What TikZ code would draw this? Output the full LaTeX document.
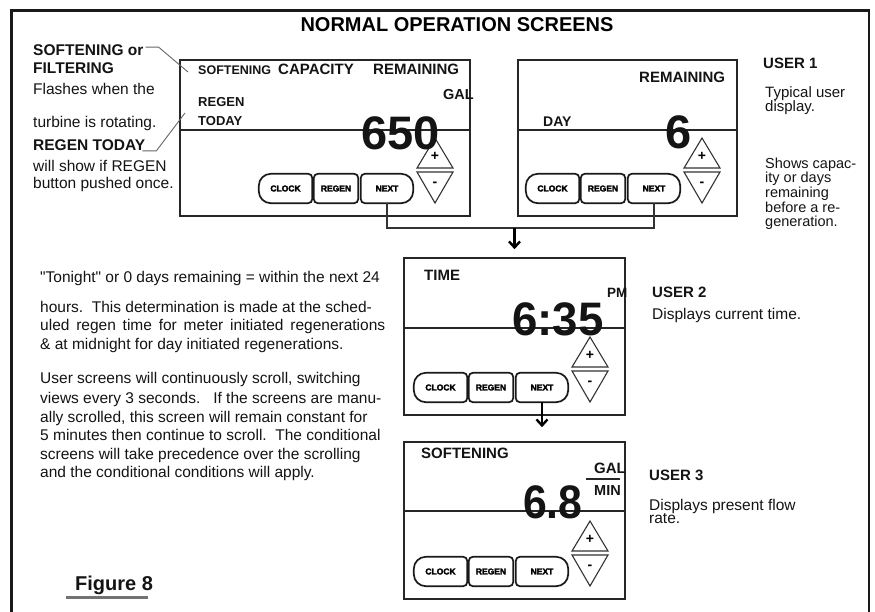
\documentclass[tikz,border=0pt]{standalone}
\usepackage{fontspec}
\setmainfont{Liberation Sans}
\usetikzlibrary{arrows.meta}
\newcommand\myfs[1]{\fontsize{#1}{#1}\selectfont}
\newcommand\sq{\XeTeXglyph\XeTeXcharglyph"22\relax}
\tikzset{
  frameline/.style={draw=black!90, line width=2.6pt},
  scr/.style={draw=black!85, line width=1.6pt, inner sep=0pt, shape=rectangle},
  divl/.style={draw=black!85, line width=1.6pt},
  btn/.style={inner sep=0pt, minimum height=29pt, font=\myfs{8.5}\bfseries\addfontfeature{FakeBold=3}},
  btnline/.style={draw=black!90, line width=1.7pt},
  tri/.style={draw=black!80, line width=1.1pt},
  pmsign/.style={inner sep=0pt, font=\myfs{14}\bfseries},
  conn/.style={draw=black!80, line width=1.2pt},
  arr/.style={draw=black, line width=2.4pt, -{Straight Barb[length=6pt,width=11pt]}},
  leadline/.style={draw=black!60, line width=0.9pt},
  lbl/.style={anchor=base west, inner sep=0pt, text=black!92},
  bignum/.style={lbl, font=\myfs{47}\bfseries},
}
\newcommand\scrparts[3]{%
  \node[btn, minimum width=53pt] (clock#1) at ({#2-184.5},{#3-27.5}) {CLOCK};
  \node[btn, minimum width=44pt] (regen#1) at ({#2-134},{#3-27.5}) {REGEN};
  \node[btn, minimum width=52pt] (next#1) at ({#2-83},{#3-27.5}) {NEXT};
  \draw[btnline] (clock#1.north) [rounded corners=12pt] -- (clock#1.north west) -- (clock#1.south west) [rounded corners=4pt] -- (clock#1.south east) -- (clock#1.north east) -- cycle;
  \draw[btnline, rounded corners=4pt] (regen#1.north west) rectangle (regen#1.south east);
  \draw[btnline] (next#1.north) [rounded corners=12pt] -- (next#1.north east) -- (next#1.south east) [rounded corners=4pt] -- (next#1.south west) -- (next#1.north west) -- cycle;
  \draw[tri] ({#2-35},{#3-78}) -- ({#2-17},{#3-48}) -- ({#2-53},{#3-48}) -- cycle;
  \draw[tri] ({#2-53},{#3-44}) -- ({#2-17},{#3-44}) -- ({#2-35},{#3-13}) -- cycle;
  \node[pmsign] (plus#1) at ({#2-35},{#3-60}) {+};
  \node[pmsign] (minus#1) at ({#2-35},{#3-32}) {-};
}
\begin{document}
\begin{tikzpicture}[x=1pt,y=-1pt]
\useasboundingbox (0,0) rectangle (875,611);
\fill[white] (0,0) rectangle (875,611);
\draw[frameline] (11.5,640) -- (11.5,10.5) -- (869,10.5) -- (869,640);

\node[anchor=base, inner sep=0pt, font=\myfs{20}\bfseries] (title) at (457,31) {NORMAL OPERATION SCREENS};

% screens
\node[scr, minimum width=290pt, minimum height=156pt] (s1) at (325,138) {};
\node[scr, minimum width=219pt, minimum height=156pt] (s2) at (627.5,138) {};
\node[scr, minimum width=221pt, minimum height=157pt] (s3) at (514.5,336.5) {};
\node[scr, minimum width=221pt, minimum height=157pt] (s4) at (514.5,520.5) {};
\draw[divl] (s1.west |- 0,130) -- (s1.east |- 0,130);
\draw[divl] (s2.west |- 0,130) -- (s2.east |- 0,130);
\draw[divl] (s3.west |- 0,328) -- (s3.east |- 0,328);
\draw[divl] (s4.west |- 0,511) -- (s4.east |- 0,511);

\scrparts{1}{470}{216}
\scrparts{2}{737}{216}
\scrparts{3}{625}{415}
\scrparts{4}{625}{599}

% screen 1 texts
\node[lbl, font=\myfs{12.5}\bfseries] (t1a) at (198,74) {SOFTENING};
\node[lbl, font=\myfs{15}\bfseries] (t1b) at (278,74) {CAPACITY};
\node[lbl, font=\myfs{15}\bfseries] (t1c) at (373,74) {REMAINING};
\node[lbl, font=\myfs{14.5}\bfseries] (t1d) at (443,99.5) {GAL};
\node[lbl, font=\myfs{13}\bfseries] (t1e) at (198,106.5) {REGEN};
\node[lbl, font=\myfs{13}\bfseries] (t1f) at (198,125.5) {TODAY};
\node[bignum] (v650) at (361,149) {650};

% screen 2 texts
\node[lbl, font=\myfs{15}\bfseries] (t2a) at (639,82.5) {REMAINING};
\node[lbl, font=\myfs{14}\bfseries] (t2b) at (543,126) {DAY};
\node[bignum] (v6) at (665,148) {6};

% screen 3 texts
\node[lbl, font=\myfs{15}\bfseries] (t3a) at (424,280) {TIME};
\node[lbl, font=\myfs{13.5}\bfseries] (t3b) at (607,297) {PM};
\node[bignum] (v635) at (512,335) {\scalebox{0.97}[1]{6:35}};

% screen 4 texts
\node[lbl, font=\myfs{15}\bfseries] (t4a) at (421,458.5) {SOFTENING};
\node[lbl, font=\myfs{15}\bfseries] (t4b) at (594,473) {GAL};
\draw[draw=black!85, line width=1.8pt] (586,479) -- (620,479);
\node[lbl, font=\myfs{14.5}\bfseries] (t4c) at (594,495) {MIN};
\node[bignum] (v68) at (523,518) {\scalebox{0.91}[1]{6.8}};

% right labels
\node[lbl, font=\myfs{15}\bfseries] (u1) at (763,68) {USER 1};
\node[lbl, font=\myfs{15}] (u1a) at (765,97.5) {Typical user};
\node[lbl, font=\myfs{15}] (u1b) at (765,111.5) {display.};
\node[lbl, font=\myfs{14.5}] (u1c) at (765,168) {Shows capac-};
\node[lbl, font=\myfs{14.5}] (u1d) at (765,182.7) {ity or days};
\node[lbl, font=\myfs{14.5}] (u1e) at (765,197.4) {remaining};
\node[lbl, font=\myfs{14.5}] (u1f) at (765,212.1) {before a re-};
\node[lbl, font=\myfs{14.5}] (u1g) at (765,226.8) {generation.};
\node[lbl, font=\myfs{15}\bfseries] (u2) at (652,297) {USER 2};
\node[lbl, font=\myfs{15.5}] (u2a) at (652,319.5) {Displays current time.};
\node[lbl, font=\myfs{15}\bfseries] (u3) at (649,480) {USER 3};
\node[lbl, font=\myfs{15.5}] (u3a) at (649,510.5) {Displays present flow};
\node[lbl, font=\myfs{15.5}] (u3b) at (649,523.5) {rate.};

% left labels
\node[lbl, font=\myfs{15.5}\bfseries] (l1) at (33,55.5) {SOFTENING or};
\node[lbl, font=\myfs{15.5}\bfseries] (l2) at (33,73.5) {FILTERING};
\node[lbl, font=\myfs{15.5}] (l3) at (33,94.5) {Flashes when the};
\node[lbl, font=\myfs{15.5}] (l4) at (33,127.5) {turbine is rotating.};
\node[lbl, font=\myfs{15.5}\bfseries] (l5) at (33,150.5) {REGEN TODAY};
\node[lbl, font=\myfs{15.5}] (l6) at (33,171) {will show if REGEN};
\node[lbl, font=\myfs{15.5}] (l7) at (33,188.5) {button pushed once.};
\draw[leadline] ([shift={(2,-3)}]l1.east) -- ++(13,0) -- (188,72);
\draw[leadline] ([xshift=-3pt]l5.south east) -- ++(14,0) -- (185,113);

% paragraph
\node[lbl, font=\myfs{15.5}] (p1) at (40,282.5) {\sq Tonight\sq{} or 0 days remaining = within the next 24};
\node[lbl, font=\myfs{15.5}] (p2) at (40,312.5) {hours.\ \ This determination is made at the sched-};
\node[lbl, font=\myfs{15.5}] (p3) at (40,330.5) {\makebox[345pt][s]{uled regen time for meter initiated regenerations}};
\node[lbl, font=\myfs{15.5}] (p4) at (40,349.5) {\& at midnight for day initiated regenerations.};
\node[lbl, font=\myfs{15.5}] (p5) at (40,383.5) {User screens will continuously scroll, switching};
\node[lbl, font=\myfs{15.5}] (p6) at (40,403) {views every 3 seconds.\ \ \ If the screens are manu-};
\node[lbl, font=\myfs{15.5}] (p7) at (40,422) {ally scrolled, this screen will remain constant for};
\node[lbl, font=\myfs{15.5}] (p8) at (40,440.5) {5 minutes then continue to scroll.\ \ The conditional};
\node[lbl, font=\myfs{15.5}] (p9) at (40,459.5) {screens will take precedence over the scrolling};
\node[lbl, font=\myfs{15.5}] (p10) at (40,477.5) {and the conditional conditions will apply.};

% figure label
\node[lbl, font=\myfs{20}\bfseries] (fig) at (75,590) {Figure 8};
\draw[draw=black!55, line width=3pt] ([shift={(-9,7)}]fig.base west) -- ([shift={(-5,7)}]fig.base east);

% connectors
\coordinate (j1) at (514.5,228);
\draw[conn] (next1.south) |- (j1) -| (next2.south);
\draw[arr, shorten >=8pt] (j1) -- (s3.north);
\draw[arr, shorten >=14pt] (next3.south) -- (next3.south |- s4.north);
\end{tikzpicture}
\end{document}
